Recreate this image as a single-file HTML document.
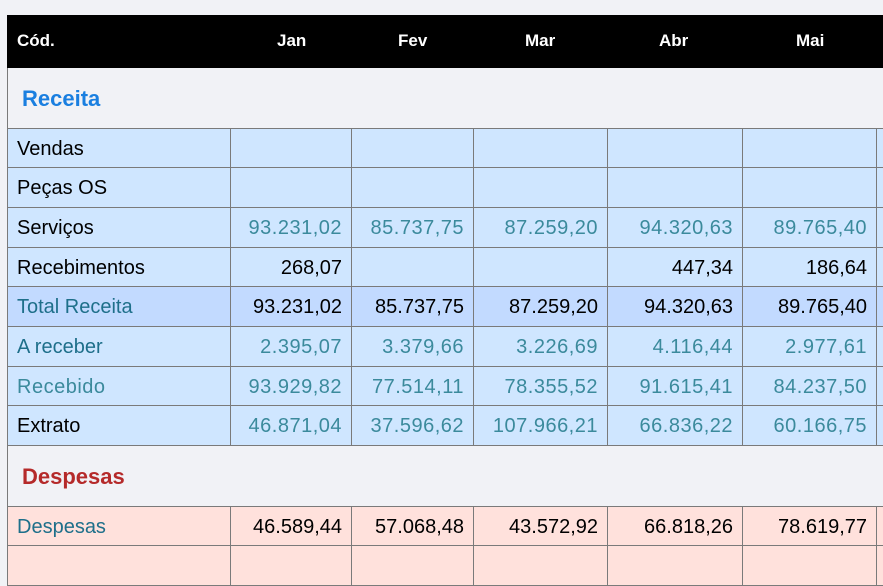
<!DOCTYPE html>
<html><head><meta charset="utf-8"><style>
body{margin:0;width:883px;height:557px;overflow:hidden;background:#f1f2f6;font-family:"Liberation Sans",sans-serif;position:relative}
.hd{position:absolute;left:7px;top:15px;width:876px;height:53px;background:#000;color:#fff;font-size:17px;font-weight:bold}
.hd span{position:absolute;top:16px}
.c{position:absolute;box-sizing:border-box;border-right:1px solid #7a7a7a;border-bottom:1px solid #7a7a7a;font-size:20px;padding-right:9px;text-align:right;line-height:40px;white-space:nowrap}
.l{text-align:left;padding-left:9px;border-left:1px solid #7a7a7a}
.sec{position:absolute;left:7px;border-left:1px solid #7a7a7a;font-weight:900;font-size:22px;box-sizing:border-box}
.lt{color:#3b8a9c;letter-spacing:0.5px}
</style></head><body>
<div class="hd"><span style="left:10px">Cód.</span><span style="left:270px">Jan</span><span style="left:391px">Fev</span><span style="left:518px">Mar</span><span style="left:652px">Abr</span><span style="left:789px">Mai</span></div>
<div class="sec" style="top:68px;height:60px;line-height:62px;color:#1a7fe0;width:1px;overflow:visible"><span style="position:absolute;left:14px;width:200px">Receita</span></div>
<div class="sec" style="top:446px;height:60px;line-height:62px;color:#b52a2a;width:1px;overflow:visible"><span style="position:absolute;left:14px;width:200px">Despesas</span></div>
<div id="g"></div>
<script>
var xs=[7,231,352,474,608,743,877,900];
var rows=[
[128,"Vendas","#cfe6ff","#000","",["","","","",""],0],
[168,"Peças OS","#cfe6ff","#000","",["","","","",""],0],
[208,"Serviços","#cfe6ff","#000","",["93.231,02","85.737,75","87.259,20","94.320,63","89.765,40"],1],
[248,"Recebimentos","#cfe6ff","#000","",["268,07","","","447,34","186,64"],0],
[287,"Total Receita","#c2daff","#1e6f8a","",["93.231,02","85.737,75","87.259,20","94.320,63","89.765,40"],0],
[327,"A receber","#cfe6ff","#1e6f8a","",["2.395,07","3.379,66","3.226,69","4.116,44","2.977,61"],1],
[367,"Recebido","#cfe6ff","#3b8a9c","lt",["93.929,82","77.514,11","78.355,52","91.615,41","84.237,50"],1],
[406,"Extrato","#cfe6ff","#000","",["46.871,04","37.596,62","107.966,21","66.836,22","60.166,75"],1],
[506,"Despesas","#ffe1dc","#1e6f8a","",["46.589,44","57.068,48","43.572,92","66.818,26","78.619,77"],0],
[546,"","#ffe1dc","#000","",["","","","",""],0]];
var h="";
rows.forEach(function(r,i){
 var top=r[0],ht=(i<rows.length-1?(rows[i+1][0]-top):40);
 if(i==7)ht=40;
 var firstTop=(i==0||i==8)?"border-top:1px solid #7a7a7a;":"";
 for(var c=0;c<7;c++){
  var w=xs[c+1]-xs[c];
  var txt=c==0?r[1]:(c<6?r[5][c-1]:"");
  var cls="c"+(c==0?" l":"")+(c>0&&c<6&&r[6]?" lt":"")+(c==0&&r[4]?" "+r[4]:"");
  var col=c==0?r[3]:(r[6]?"#3b8a9c":"#000");
  h+='<div class="'+cls+'" style="'+firstTop+'left:'+xs[c]+'px;top:'+top+'px;width:'+w+'px;height:'+ht+'px;background:'+r[2]+';color:'+col+'">'+txt+'</div>';
 }
});
document.getElementById("g").innerHTML=h;
</script>
</body></html>
